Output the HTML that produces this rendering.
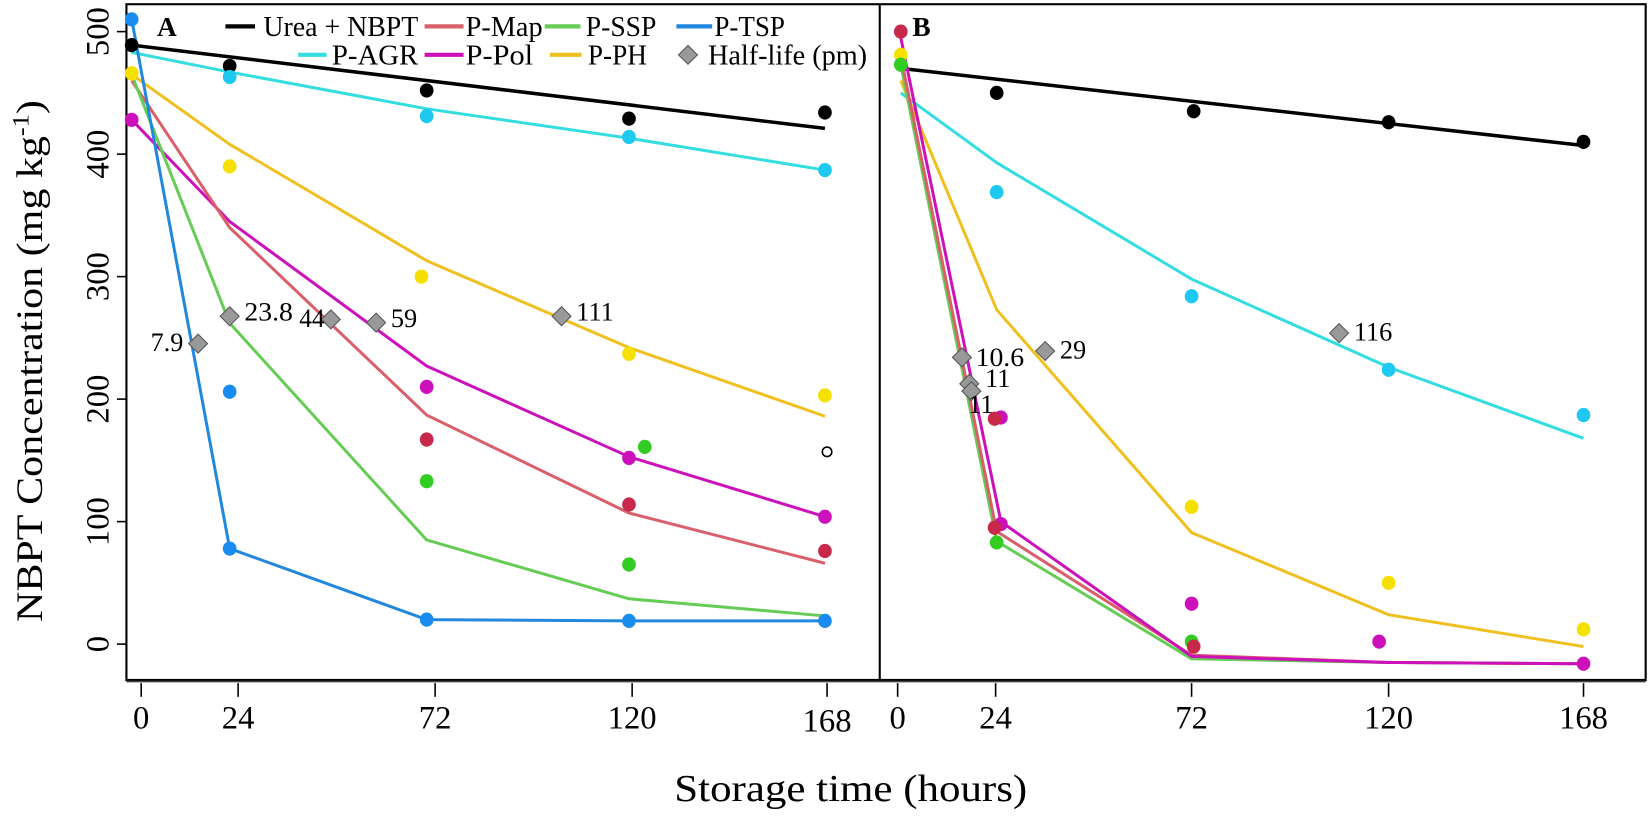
<!DOCTYPE html>
<html><head><meta charset="utf-8"><style>
html,body{margin:0;padding:0;background:#fff;}
svg{display:block;}
text{font-family:"Liberation Serif",serif;fill:#000;}
</style></head><body>
<svg width="1652" height="817" viewBox="0 0 1568 775" preserveAspectRatio="none" xmlns="http://www.w3.org/2000/svg">
<rect x="0" y="0" width="1568" height="775" fill="#fff"/>
<rect x="120" y="4" width="1442" height="641" fill="none" stroke="#000" stroke-width="2"/>
<line x1="835" y1="4" x2="835" y2="645" stroke="#000" stroke-width="2"/>
<line x1="120" y1="646.5" x2="1562" y2="646.5" stroke="#444" stroke-width="1.5"/>
<g stroke="#000" stroke-width="1.5">
<line x1="111" y1="30" x2="120" y2="30"/><line x1="111" y1="146.2" x2="120" y2="146.2"/>
<line x1="111" y1="262.4" x2="120" y2="262.4"/><line x1="111" y1="378.6" x2="120" y2="378.6"/>
<line x1="111" y1="494.8" x2="120" y2="494.8"/><line x1="111" y1="611" x2="120" y2="611"/>
<line x1="134" y1="648" x2="134" y2="661"/><line x1="226" y1="648" x2="226" y2="661"/>
<line x1="413" y1="648" x2="413" y2="661"/><line x1="600" y1="648" x2="600" y2="661"/>
<line x1="785" y1="648" x2="785" y2="661"/>
<line x1="852" y1="648" x2="852" y2="661"/><line x1="945" y1="648" x2="945" y2="661"/>
<line x1="1131" y1="648" x2="1131" y2="661"/><line x1="1318" y1="648" x2="1318" y2="661"/>
<line x1="1503" y1="648" x2="1503" y2="661"/>
</g>
<g font-size="31" text-anchor="middle">
<text transform="translate(103,30) rotate(-90)">500</text>
<text transform="translate(103,146.2) rotate(-90)">400</text>
<text transform="translate(103,262.4) rotate(-90)">300</text>
<text transform="translate(103,378.6) rotate(-90)">200</text>
<text transform="translate(103,494.8) rotate(-90)">100</text>
<text transform="translate(103,611) rotate(-90)">0</text>
<text x="134" y="691">0</text><text x="226" y="691">24</text><text x="413" y="691">72</text>
<text x="600" y="691">120</text><text x="785" y="694">168</text>
<text x="852" y="691">0</text><text x="945" y="691">24</text><text x="1131" y="691">72</text>
<text x="1318" y="691">120</text><text x="1503" y="691">168</text>
</g>
<text x="640" y="760" font-size="36" textLength="335" lengthAdjust="spacingAndGlyphs">Storage time (hours)</text>
<text transform="translate(40,590) rotate(-90)" font-size="35" textLength="495" lengthAdjust="spacingAndGlyphs">NBPT Concentration (mg kg<tspan font-size="22" dy="-13">-1</tspan><tspan dy="13">)</tspan></text>

<g transform="matrix(1 0 0 -1.162 0 611)" fill="none" stroke-width="3" stroke-linejoin="round">
<polyline vector-effect="non-scaling-stroke" stroke="#000" stroke-width="3.5" points="125,489 783,421"/>
<polyline vector-effect="non-scaling-stroke" stroke="#33dde0" points="125,483 218,467 405,437 597,413 783,387"/>
<polyline vector-effect="non-scaling-stroke" stroke="#f0c020" points="125,465 218,408 405,313 597,242 783,186"/>
<polyline vector-effect="non-scaling-stroke" stroke="#cc11bb" points="125,428 218,345 405,227 597,153 783,104"/>
<polyline vector-effect="non-scaling-stroke" stroke="#d9606b" points="125,460 218,340 405,187 597,107 783,66"/>
<polyline vector-effect="non-scaling-stroke" stroke="#66cc55" points="125,465 218,262 405,85 597,37 783,23"/>
<polyline vector-effect="non-scaling-stroke" stroke="#2288dd" points="125,510 218,78 405,20 597,19 783,19"/>
<polyline vector-effect="non-scaling-stroke" stroke="#000" stroke-width="3.5" points="855,470 1503,407"/>
<polyline vector-effect="non-scaling-stroke" stroke="#33dde0" points="855,450 946,393 1131,298 1318,226 1503,168"/>
<polyline vector-effect="non-scaling-stroke" stroke="#f0c020" points="855,460 946,273 1131,91 1318,24 1503,-2"/>
<polyline vector-effect="non-scaling-stroke" stroke="#66cc55" points="855,473 946,84 1131,-12 1318,-15 1503,-16"/>
<polyline vector-effect="non-scaling-stroke" stroke="#d9606b" points="855,480 946,92 1131,-9 1318,-15 1503,-16"/>
<polyline vector-effect="non-scaling-stroke" stroke="#cc11bb" points="855,495 950,100 1131,-10 1318,-15 1503,-16"/>
<g stroke="none">
<g fill="#000"><ellipse cx="125" cy="489" rx="6.5" ry="5.8"/><ellipse cx="218" cy="472" rx="6.5" ry="5.8"/><ellipse cx="405" cy="452" rx="6.5" ry="5.8"/><ellipse cx="597" cy="429" rx="6.5" ry="5.8"/><ellipse cx="783" cy="434" rx="6.5" ry="5.8"/></g>
<g fill="#1ec8f0"><ellipse cx="218" cy="463" rx="6.5" ry="5.8"/><ellipse cx="405" cy="431" rx="6.5" ry="5.8"/><ellipse cx="597" cy="414" rx="6.5" ry="5.8"/><ellipse cx="783" cy="387" rx="6.5" ry="5.8"/></g>
<g fill="#f5e000"><ellipse cx="125" cy="466" rx="6.5" ry="5.8"/><ellipse cx="218" cy="390" rx="6.5" ry="5.8"/><ellipse cx="400" cy="300" rx="6.5" ry="5.8"/><ellipse cx="597" cy="237" rx="6.5" ry="5.8"/><ellipse cx="783" cy="203" rx="6.5" ry="5.8"/></g>
<g fill="#cc11bb"><ellipse cx="125" cy="428" rx="6.5" ry="5.8"/><ellipse cx="405" cy="210" rx="6.5" ry="5.8"/><ellipse cx="597" cy="152" rx="6.5" ry="5.8"/><ellipse cx="783" cy="104" rx="6.5" ry="5.8"/></g>
<g fill="#c8284a"><ellipse cx="405" cy="167" rx="6.5" ry="5.8"/><ellipse cx="597" cy="114" rx="6.5" ry="5.8"/><ellipse cx="783" cy="76" rx="6.5" ry="5.8"/></g>
<g fill="#33cc22"><ellipse cx="405" cy="133" rx="6.5" ry="5.8"/><ellipse cx="597" cy="65" rx="6.5" ry="5.8"/><ellipse cx="612" cy="161" rx="6.5" ry="5.8"/></g>
<g fill="#1a8cf0"><ellipse cx="125" cy="510" rx="6.5" ry="5.8"/><ellipse cx="218" cy="206" rx="6.5" ry="5.8"/><ellipse cx="218" cy="78" rx="6.5" ry="5.8"/><ellipse cx="405" cy="20" rx="6.5" ry="5.8"/><ellipse cx="597" cy="19" rx="6.5" ry="5.8"/><ellipse cx="783" cy="19" rx="6.5" ry="5.8"/></g>
<g fill="#000"><ellipse cx="946" cy="450" rx="6.5" ry="5.8"/><ellipse cx="1133" cy="435" rx="6.5" ry="5.8"/><ellipse cx="1318" cy="426" rx="6.5" ry="5.8"/><ellipse cx="1503" cy="410" rx="6.5" ry="5.8"/></g>
<g fill="#1ec8f0"><ellipse cx="946" cy="369" rx="6.5" ry="5.8"/><ellipse cx="1131" cy="284" rx="6.5" ry="5.8"/><ellipse cx="1318" cy="224" rx="6.5" ry="5.8"/><ellipse cx="1503" cy="187" rx="6.5" ry="5.8"/></g>
<g fill="#f5e000"><ellipse cx="855" cy="481" rx="6.5" ry="5.8"/><ellipse cx="1131" cy="112" rx="6.5" ry="5.8"/><ellipse cx="1318" cy="50" rx="6.5" ry="5.8"/><ellipse cx="1503" cy="12" rx="6.5" ry="5.8"/></g>
<g fill="#33cc22"><ellipse cx="855" cy="473" rx="6.5" ry="5.8"/><ellipse cx="946" cy="83" rx="6.5" ry="5.8"/><ellipse cx="1131" cy="2" rx="6.5" ry="5.8"/></g>
<g fill="#cc11bb"><ellipse cx="950" cy="185" rx="6.5" ry="5.8"/><ellipse cx="950" cy="98" rx="6.5" ry="5.8"/><ellipse cx="1131" cy="33" rx="6.5" ry="5.8"/><ellipse cx="1309" cy="2" rx="6.5" ry="5.8"/><ellipse cx="1503" cy="-16" rx="6.5" ry="5.8"/></g>
<g fill="#c8284a"><ellipse cx="855" cy="500" rx="6.5" ry="5.8"/><ellipse cx="944" cy="184" rx="6.5" ry="5.8"/><ellipse cx="944" cy="95" rx="6.5" ry="5.8"/><ellipse cx="1133" cy="-2" rx="6.5" ry="5.8"/></g>
</g>
</g>
<circle cx="785" cy="428.6" r="4.5" fill="none" stroke="#000" stroke-width="1.5"/>
<g fill="#999" stroke="#555" stroke-width="1">
<path d="M188,317 l9,9 -9,9 -9,-9z"/>
<path d="M218,291 l9,9 -9,9 -9,-9z"/>
<path d="M314,294 l9,9 -9,9 -9,-9z"/>
<path d="M357,297 l9,9 -9,9 -9,-9z"/>
<path d="M533,291 l9,9 -9,9 -9,-9z"/>
<path d="M913,330 l9,9 -9,9 -9,-9z"/>
<path d="M920,355 l9,9 -9,9 -9,-9z"/>
<path d="M922,362 l9,9 -9,9 -9,-9z"/>
<path d="M992,324 l9,9 -9,9 -9,-9z"/>
<path d="M1271,307 l9,9 -9,9 -9,-9z"/>
</g>
<g font-size="25">
<text x="143" y="333" textLength="31" lengthAdjust="spacingAndGlyphs">7.9</text>
<text x="232" y="304" textLength="46" lengthAdjust="spacingAndGlyphs">23.8</text>
<text x="284" y="310" textLength="24" lengthAdjust="spacingAndGlyphs">44</text>
<text x="371" y="310">59</text>
<text x="547" y="304">111</text>
<text x="926" y="347" textLength="46" lengthAdjust="spacingAndGlyphs">10.6</text>
<text x="935" y="367">11</text>
<text x="919" y="392">11</text>
<text x="1006" y="340">29</text>
<text x="1285" y="323">116</text>
</g>
<text x="149" y="34" font-size="26" font-weight="bold">A</text>
<text x="866" y="34" font-size="26" font-weight="bold">B</text>
<g stroke-width="4">
<line x1="214" y1="25" x2="242" y2="25" stroke="#000"/>
<line x1="403" y1="25" x2="440" y2="25" stroke="#d9606b"/>
<line x1="517" y1="25" x2="551" y2="25" stroke="#66cc55"/>
<line x1="642" y1="25" x2="676" y2="25" stroke="#2288dd"/>
<line x1="283" y1="52" x2="310" y2="52" stroke="#33dde0"/>
<line x1="403" y1="52" x2="440" y2="52" stroke="#cc11bb"/>
<line x1="522" y1="52" x2="552" y2="52" stroke="#f0c020"/>
</g>
<path d="M653,43 l9,9 -9,9 -9,-9z" fill="#999" stroke="#555"/>
<g font-size="27">
<text x="250" y="34" textLength="147" lengthAdjust="spacingAndGlyphs">Urea + NBPT</text>
<text x="442" y="34" textLength="73" lengthAdjust="spacingAndGlyphs">P-Map</text>
<text x="556" y="34" textLength="67" lengthAdjust="spacingAndGlyphs">P-SSP</text>
<text x="678" y="34" textLength="67" lengthAdjust="spacingAndGlyphs">P-TSP</text>
<text x="315" y="61" textLength="82" lengthAdjust="spacingAndGlyphs">P-AGR</text>
<text x="442" y="61" textLength="64" lengthAdjust="spacingAndGlyphs">P-Pol</text>
<text x="558" y="61" textLength="56" lengthAdjust="spacingAndGlyphs">P-PH</text>
<text x="672" y="61" textLength="151" lengthAdjust="spacingAndGlyphs">Half-life (pm)</text>
</g>
</svg>
</body></html>
